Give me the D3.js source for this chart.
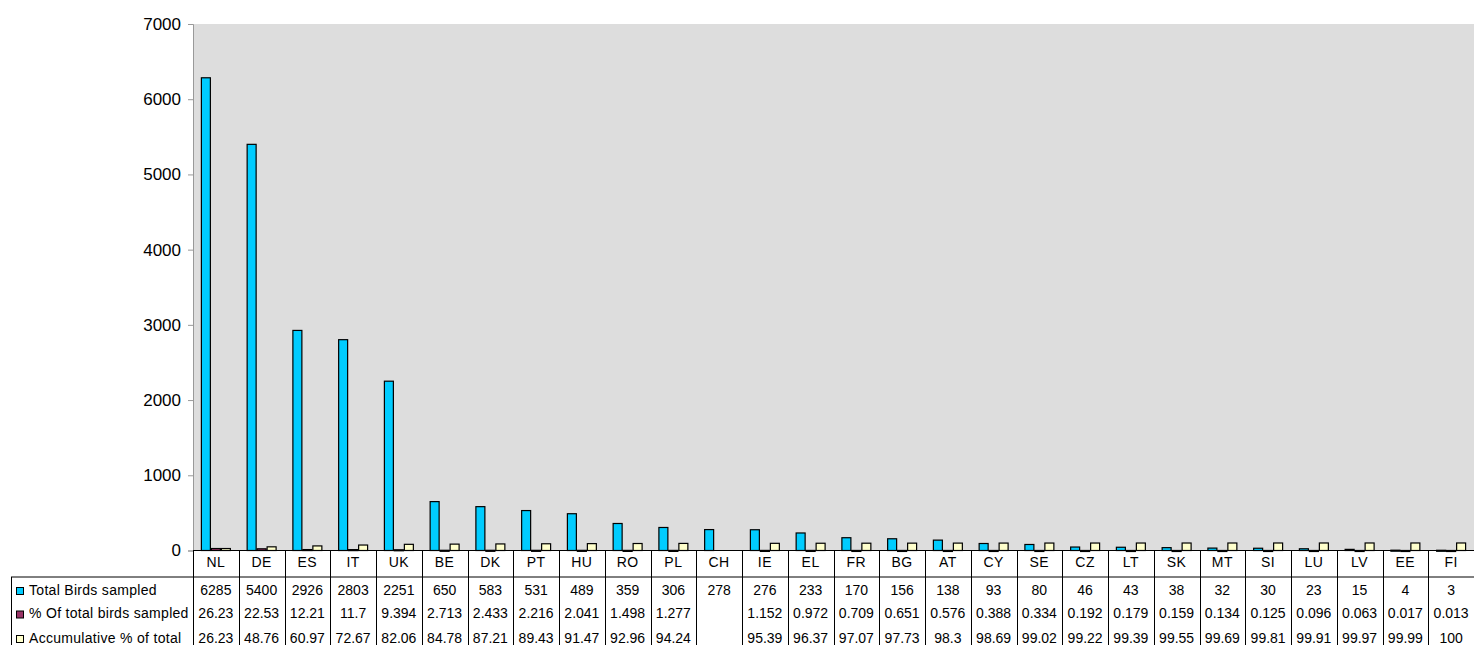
<!DOCTYPE html>
<html>
<head>
<meta charset="utf-8">
<script src="https://cdn.jsdelivr.net/npm/d3@7"></script>
<style>
  body { margin: 0; background: #fff; }
  svg { display: block; font-family: "Liberation Sans", Arial, sans-serif; }
</style>
</head>
<body>
<svg id="chart"></svg>
<script>
const countries = ['NL','DE','ES','IT','UK','BE','DK','PT','HU','RO','PL','CH','IE','EL','FR','BG','AT','CY','SE','CZ','LT','SK','MT','SI','LU','LV','EE','FI'];
const totalBirds = [6285,5400,2926,2803,2251,650,583,531,489,359,306,278,276,233,170,156,138,93,80,46,43,38,32,30,23,15,4,3];
const pctOfTotal = [26.23,22.53,12.21,11.7,9.394,2.713,2.433,2.216,2.041,1.498,1.277,null,1.152,0.972,0.709,0.651,0.576,0.388,0.334,0.192,0.179,0.159,0.134,0.125,0.096,0.063,0.017,0.013];
const accumPct = [26.23,48.76,60.97,72.67,82.06,84.78,87.21,89.43,91.47,92.96,94.24,null,95.39,96.37,97.07,97.73,98.3,98.69,99.02,99.22,99.39,99.55,99.69,99.81,99.91,99.97,99.99,100];
const seriesNames = ['Total Birds sampled', '% Of total birds sampled', 'Accumulative % of total'];
const yTicks = [0,1000,2000,3000,4000,5000,6000,7000];

const seriesColors = ['#00ccff', '#993366', '#ffffcc'];
const seriesData = [totalBirds, pctOfTotal, accumPct];

const width = 1474;
const height = 645;
const margin = { top: 24, right: 0, bottom: 94.5, left: 193 };
const plotBottom = height - margin.bottom;

const svg = d3.select('#chart').attr('width', width).attr('height', height);

const x = d3.scaleBand().domain(countries).range([margin.left, width - margin.right]);
const xSub = d3.scaleBand().domain([0, 1, 2]).range([0, x.bandwidth()]).paddingOuter(0.79);
const y = d3.scaleLinear().domain([0, 7000]).range([plotBottom, margin.top]);

// plot background
svg.append('rect')
    .attr('x', margin.left)
    .attr('y', margin.top)
    .attr('width', width - margin.right - margin.left)
    .attr('height', plotBottom - margin.top)
    .attr('fill', '#dddddd');

// y axis
const yAxis = svg.append('g')
    .attr('transform', `translate(${margin.left}, 0)`)
    .call(d3.axisLeft(y).tickValues(yTicks).tickSize(5).tickPadding(7).tickFormat(d3.format('d')));
yAxis.select('.domain').attr('stroke', '#999999');
yAxis.selectAll('.tick line').attr('stroke', '#999999');
yAxis.selectAll('.tick text')
    .attr('font-size', '17px')
    .attr('font-family', '"Liberation Sans", Arial, sans-serif')
    .attr('fill', '#000');

// bars
seriesData.forEach((vals, s) => {
    svg.append('g')
        .selectAll('rect')
        .data(countries.map((c, i) => ({ c, v: vals[i] })).filter(d => d.v !== null))
        .enter()
        .append('rect')
        .attr('x', d => x(d.c) + xSub(s) + 0.5)
        .attr('y', d => y(d.v))
        .attr('width', xSub.bandwidth() - 1)
        .attr('height', d => Math.max(1, plotBottom - y(d.v)))
        .attr('fill', seriesColors[s])
        .attr('stroke', '#000')
        .attr('stroke-width', 1.2);
});

// data table
const table = svg.append('g');
const rowTop = 577;
const rowCenters = [591, 614.5, 639];

table.append('line')
    .attr('x1', margin.left).attr('x2', width)
    .attr('y1', plotBottom).attr('y2', plotBottom)
    .attr('stroke', '#000');
table.append('line')
    .attr('x1', 11).attr('x2', width)
    .attr('y1', rowTop).attr('y2', rowTop)
    .attr('stroke', '#000');
table.append('line')
    .attr('x1', 11.5).attr('x2', 11.5)
    .attr('y1', rowTop).attr('y2', height)
    .attr('stroke', '#000');

countries.forEach(c => {
    table.append('line')
        .attr('x1', Math.round(x(c)) + 0.5).attr('x2', Math.round(x(c)) + 0.5)
        .attr('y1', plotBottom).attr('y2', height)
        .attr('stroke', '#000');
    table.append('text')
        .attr('x', x(c) + x.bandwidth() / 2)
        .attr('y', 563)
        .attr('text-anchor', 'middle')
        .attr('dominant-baseline', 'middle')
        .attr('font-size', '14px')
        .attr('letter-spacing', '0.5px')
        .text(c);
});

seriesData.forEach((vals, s) => {
    table.append('rect')
        .attr('x', 16.5)
        .attr('y', rowCenters[s] - 3.5)
        .attr('width', 7)
        .attr('height', 7)
        .attr('fill', seriesColors[s])
        .attr('stroke', '#000');
    table.append('text')
        .attr('x', 29)
        .attr('y', rowCenters[s])
        .attr('dominant-baseline', 'middle')
        .attr('font-size', '14px')
        .attr('letter-spacing', '0.3px')
        .text(seriesNames[s]);
    countries.forEach((c, i) => {
        if (vals[i] === null) return;
        table.append('text')
            .attr('x', x(c) + x.bandwidth() / 2)
            .attr('y', rowCenters[s])
            .attr('text-anchor', 'middle')
            .attr('dominant-baseline', 'middle')
            .attr('font-size', '14px')
            .text(vals[i]);
    });
});
</script>
</body>
</html>
